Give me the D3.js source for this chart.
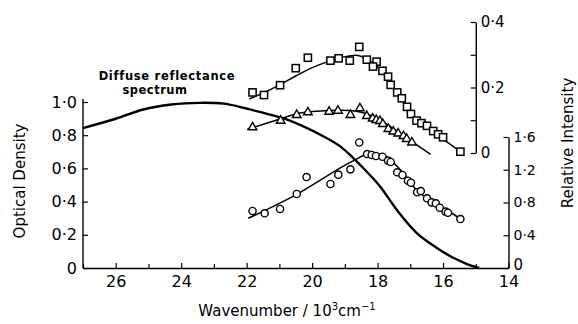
<!DOCTYPE html>
<html><head><meta charset="utf-8">
<script src="https://cdn.jsdelivr.net/npm/d3@7"></script>
<style>
body{margin:0;background:#fff}
svg{display:block}
text{font-family:"DejaVu Sans",sans-serif;fill:#000}
</style></head>
<body><svg id="c" width="578" height="324"></svg>
<script>
// ---- data ----
const wavenumberTicks = [26,24,22,20,18,16,14];
const wavenumberMinor = [27,25,23,21,19,17,15];
const odTicks = [0,0.2,0.4,0.6,0.8,1.0];
const upperTicks = [0,0.1,0.2,0.3,0.4];
const upperLabels = [0,0.2,0.4];
const lowerTicks = [0,0.4,0.8,1.2,1.6];

// diffuse reflectance spectrum (optical density, left axis)
const reflWn = [27.0,26.0,25.16,24.3,23.43,22.7,22.21,21.6,20.78,19.66,19.15,18.75,18.54,17.93,17.42,16.81,16.20,15.9,15.64,15.3,14.9];
const reflOD = [0.843,0.899,0.955,0.985,0.995,0.99,0.971,0.94,0.895,0.794,0.734,0.664,0.623,0.493,0.352,0.212,0.122,0.085,0.057,0.027,0.0];

// squares (upper relative intensity axis)
const sqWn  = [21.82,21.47,20.98,20.50,20.13,19.44,19.19,18.85,18.56,18.33,18.03,18.14,17.85,17.68,17.60,17.40,17.26,17.10,16.98,16.81,16.66,16.49,16.30,16.15,16.00,15.47];
const sqVal = [0.185,0.177,0.207,0.259,0.291,0.282,0.289,0.282,0.324,0.285,0.279,0.264,0.251,0.233,0.208,0.185,0.167,0.141,0.119,0.099,0.091,0.083,0.067,0.057,0.048,0.004];
const sqFitWn  = [21.92,21.44,20.98,20.50,20.01,19.52,19.09,18.60,18.24,17.93,17.63,17.38,17.12,16.71,16.10,15.47];
const sqFitVal = [0.165,0.186,0.209,0.235,0.260,0.279,0.292,0.298,0.281,0.256,0.214,0.177,0.144,0.094,0.050,0.004];

// triangles (lower relative intensity axis)
const triWn  = [21.82,20.96,20.47,20.13,19.48,19.21,18.83,18.54,18.33,18.15,18.04,17.93,17.84,17.67,17.52,17.37,17.21,17.11,16.95];
const triVal = [1.718,1.799,1.869,1.902,1.909,1.921,1.869,1.951,1.856,1.826,1.808,1.795,1.759,1.698,1.667,1.643,1.612,1.576,1.533];
const triFitWn  = [21.98,20.98,20.37,19.46,18.69,18.24,17.63,17.02,16.38];
const triFitVal = [1.694,1.820,1.893,1.924,1.918,1.869,1.734,1.563,1.389];

// circles (lower relative intensity axis)
const cirWn  = [21.82,21.45,20.98,20.47,20.17,19.44,19.20,18.83,18.56,18.32,18.18,18.05,17.85,17.68,17.60,17.40,17.24,17.07,16.98,16.79,16.68,16.49,16.35,16.22,16.10,15.92,15.85,15.47];
const cirVal = [0.696,0.668,0.721,0.904,1.111,1.026,1.140,1.205,1.533,1.392,1.380,1.368,1.359,1.311,1.295,1.169,1.136,1.066,1.042,0.925,0.940,0.851,0.802,0.790,0.736,0.688,0.675,0.598];
const cirFitWn  = [21.95,20.47,19.15,18.69,18.34,17.93,17.53,17.17,16.81,16.47,16.10,15.79,15.47];
const cirFitVal = [0.607,0.90,1.22,1.32,1.39,1.39,1.29,1.136,0.953,0.849,0.749,0.684,0.598];

// ---- drawing ----
const svg = d3.select("#c");
const x  = d3.scaleLinear().domain([27,14]).range([83,508.5]);
const yL = d3.scaleLinear().domain([0,1]).range([268,102]);
const yU = d3.scaleLinear().domain([0,0.4]).range([153,22]);
const yR = d3.scaleLinear().domain([0,1.6]).range([268,137]);

const fmt = d => d===0 ? "0" : d3.format(".1f")(d).replace(".","·");

function styleAxis(g){
  g.selectAll("path.domain").attr("stroke","#000").attr("stroke-width",1.4);
  g.selectAll(".tick line").attr("stroke","#000").attr("stroke-width",1.2);
  g.selectAll("text").attr("font-family","DejaVu Sans").attr("fill","#000");
}

// bottom axis
const gB = svg.append("g").attr("transform","translate(0,268)")
  .call(d3.axisBottom(x).tickValues(wavenumberTicks).tickSizeInner(-5).tickSizeOuter(0).tickPadding(8).tickFormat(d3.format("d")));
gB.selectAll("text").attr("font-size",16);
styleAxis(gB);
svg.append("g").attr("transform","translate(0,268)")
  .call(d3.axisBottom(x).tickValues(wavenumberMinor).tickSizeInner(-4).tickSizeOuter(0).tickFormat(""))
  .call(g=>{g.select("path.domain").remove(); styleAxis(g);});

// left axis
const gL = svg.append("g").attr("transform","translate(83,0)")
  .call(d3.axisLeft(yL).tickValues(odTicks).tickSizeInner(-5).tickSizeOuter(0).tickPadding(6).tickFormat(fmt));
gL.selectAll("text").attr("font-size",16);
styleAxis(gL);
gL.select("path.domain").attr("d","M0,268V99");

// upper right axis (at 15 x10^3)
const gU = svg.append("g").attr("transform",`translate(${x(15)},0)`)
  .call(d3.axisRight(yU).tickValues(upperTicks).tickSizeInner(-5).tickSizeOuter(0).tickPadding(5)
    .tickFormat(d => upperLabels.some(v=>Math.abs(v-d)<1e-9) ? fmt(d) : ""));
gU.selectAll("text").attr("font-size",15);
styleAxis(gU);

// lower right axis (at 14 x10^3)
const gR = svg.append("g").attr("transform",`translate(${x(14)},0)`)
  .call(d3.axisRight(yR).tickValues(lowerTicks).tickSizeInner(-5).tickSizeOuter(0).tickPadding(5).tickFormat(fmt));
gR.selectAll("text").attr("font-size",14);
gR.selectAll(".tick").filter(d=>d===0).select("text").attr("dy","0.1em").attr("font-size",15);
styleAxis(gR);

// reflectance curve
const zip = (a,b)=>a.map((v,i)=>[v,b[i]]);
svg.append("path").datum(zip(reflWn,reflOD))
  .attr("fill","none").attr("stroke","#000").attr("stroke-width",2.4)
  .attr("d", d3.line().x(d=>x(d[0])).y(d=>yL(d[1])).curve(d3.curveCatmullRom.alpha(0.5)));

// fit lines
const fitLine = (wn,val,ys)=> svg.append("path").datum(zip(wn,val))
  .attr("fill","none").attr("stroke","#000").attr("stroke-width",1.5)
  .attr("d", d3.line().x(d=>x(d[0])).y(d=>ys(d[1])).curve(d3.curveCatmullRom.alpha(0.5)));
fitLine(sqFitWn,sqFitVal,yU);
fitLine(triFitWn,triFitVal,yR);
fitLine(cirFitWn,cirFitVal,yR);

// markers
svg.append("g").selectAll("rect").data(zip(sqWn,sqVal)).join("rect")
  .attr("x",d=>x(d[0])-3.6).attr("y",d=>yU(d[1])-3.6).attr("width",7.2).attr("height",7.2)
  .attr("fill","#fff").attr("stroke","#000").attr("stroke-width",1.5);
const tri = d3.symbol().type(d3.symbolTriangle).size(32);
svg.append("g").selectAll("path").data(zip(triWn,triVal)).join("path")
  .attr("transform",d=>`translate(${x(d[0])},${yR(d[1])})`).attr("d",tri())
  .attr("fill","#fff").attr("stroke","#000").attr("stroke-width",1.4);
svg.append("g").selectAll("circle").data(zip(cirWn,cirVal)).join("circle")
  .attr("cx",d=>x(d[0])).attr("cy",d=>yR(d[1])).attr("r",3.6)
  .attr("fill","#fff").attr("stroke","#000").attr("stroke-width",1.4);

// texts
svg.append("text").attr("x",167).attr("y",80).attr("text-anchor","middle")
  .attr("font-size",11.5).attr("font-weight","bold").attr("letter-spacing",0.7).text("Diffuse reflectance");
svg.append("text").attr("x",155).attr("y",94).attr("text-anchor","middle")
  .attr("font-size",11.5).attr("font-weight","bold").attr("letter-spacing",0.5).text("spectrum");

svg.append("text").attr("transform","translate(25,181) rotate(-90)").attr("text-anchor","middle")
  .attr("font-size",15).text("Optical  Density");
svg.append("text").attr("transform","translate(573,143) rotate(-90)").attr("text-anchor","middle")
  .attr("font-size",15).text("Relative  Intensity");

const xl = svg.append("text").attr("x",287).attr("y",316).attr("text-anchor","middle").attr("font-size",15);
xl.append("tspan").text("Wavenumber / 10");
xl.append("tspan").attr("dy",-6).attr("font-size",10).text("3");
xl.append("tspan").attr("dy",6).text("cm");
xl.append("tspan").attr("dy",-6).attr("font-size",10).text("−1");
</script></body></html>
